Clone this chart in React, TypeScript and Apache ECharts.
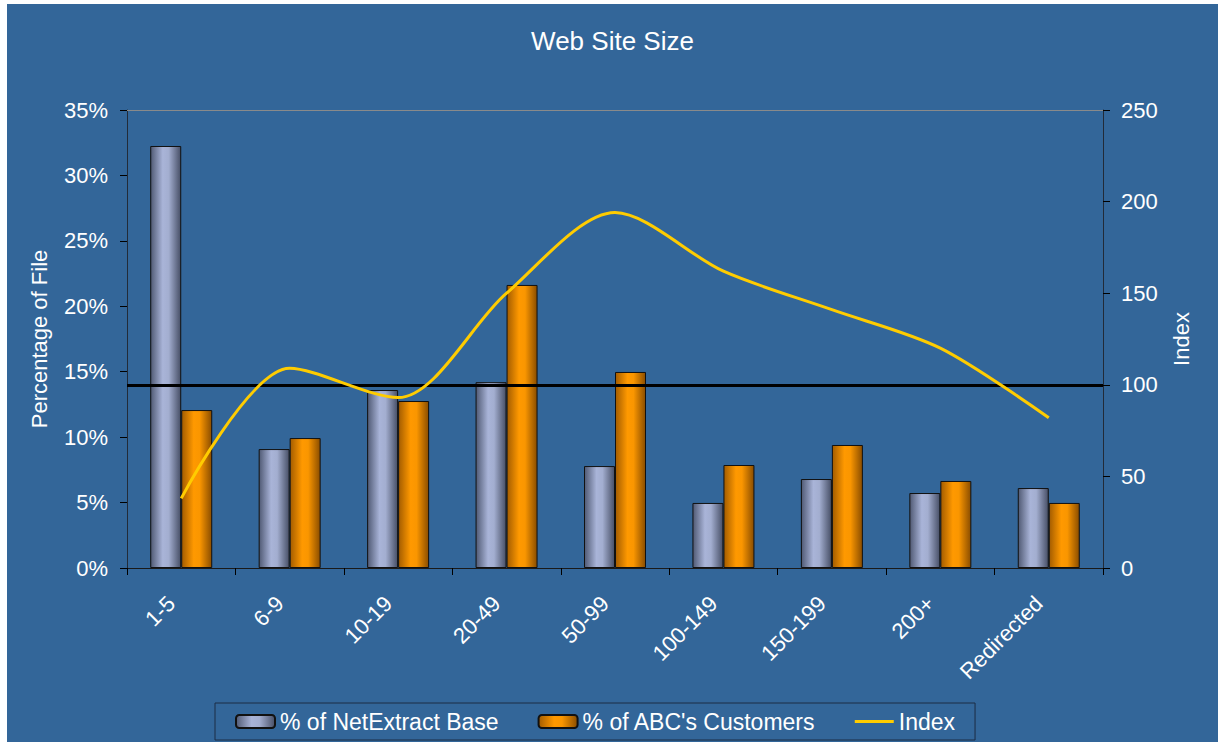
import React, { useEffect, useRef } from "react";
import * as echarts from "echarts";

const categories = ["1-5", "6-9", "10-19", "20-49", "50-99", "100-149", "150-199", "200+", "Redirected"];
const netExtractBase = [32.25, 9.09, 13.6, 14.2, 7.79, 4.97, 6.8, 5.73, 6.11];
const abcCustomers = [12.07, 9.93, 12.76, 21.63, 14.98, 7.87, 9.4, 6.65, 4.97];
const indexValues = [38, 109, 93, 150, 194, 162, 141, 120, 82];
const baselineIndex = 100;

const FONT = "'Liberation Sans', Arial, sans-serif";

export default function App() {
  const ref = useRef<HTMLDivElement>(null);
  useEffect(() => {
    if (!ref.current) return;
    const chart = echarts.init(ref.current, null, { renderer: "svg" });
    const grayGrad = new echarts.graphic.LinearGradient(0, 0, 1, 0, [
      { offset: 0, color: "#505a74" },
      { offset: 0.4, color: "#a9b4d8" },
      { offset: 0.6, color: "#a3aed0" },
      { offset: 1, color: "#474f66" },
    ]);
    const orangeGrad = new echarts.graphic.LinearGradient(0, 0, 1, 0, [
      { offset: 0, color: "#a35c00" },
      { offset: 0.4, color: "#ff9900" },
      { offset: 0.6, color: "#fa9600" },
      { offset: 1, color: "#8a4d00" },
    ]);
    chart.setOption({
      animation: false,
      backgroundColor: "#336699",
      textStyle: { fontFamily: FONT },
      title: {
        text: "Web Site Size",
        left: "center",
        top: 19,
        textStyle: { color: "#ffffff", fontSize: 26, fontWeight: "normal", fontFamily: FONT },
      },
      legend: {
        left: 208,
        top: 699,
        padding: [7, 20],
        itemGap: 39,
        itemWidth: 39,
        itemHeight: 13,
        borderColor: "#1c2c44",
        borderWidth: 1,
        textStyle: { color: "#ffffff", fontSize: 23, fontFamily: FONT },
        data: [
          { name: "% of NetExtract Base" },
          { name: "% of ABC's Customers" },
          { name: "Index", icon: "path://M0,0H40V3H0Z" },
        ],
      },
      grid: { left: 120, right: 115, top: 106, bottom: 174 },
      xAxis: {
        type: "category",
        data: categories,
        axisLine: { lineStyle: { color: "#1a1a1a", width: 1 } },
        axisTick: { show: true, length: 7, lineStyle: { color: "#000" } },
        axisLabel: {
          rotate: 45,
          color: "#ffffff",
          fontSize: 22,
          margin: 22,
          padding: [0, 14, 0, 0],
          fontFamily: FONT,
        },
      },
      yAxis: [
        {
          type: "value",
          min: 0,
          max: 35,
          interval: 5,
          name: "Percentage of File",
          nameLocation: "middle",
          nameGap: 77,
          nameTextStyle: { color: "#ffffff", fontSize: 22, fontFamily: FONT },
          axisLine: { show: true, lineStyle: { color: "#222b38" } },
          axisTick: { show: true, length: 7, lineStyle: { color: "#000" } },
          axisLabel: { formatter: "{value}%", color: "#ffffff", fontSize: 22, margin: 19, fontFamily: FONT },
          splitLine: { show: false },
        },
        {
          type: "value",
          min: 0,
          max: 250,
          interval: 50,
          name: "Index",
          nameLocation: "middle",
          nameGap: 67,
          nameTextStyle: { color: "#ffffff", fontSize: 22, fontFamily: FONT },
          axisLine: { show: true, lineStyle: { color: "#222b38" } },
          axisTick: { show: true, length: 7, lineStyle: { color: "#000" } },
          axisLabel: { color: "#ffffff", fontSize: 22, margin: 18, fontFamily: FONT },
          splitLine: { show: false },
        },
      ],
      series: [
        {
          name: "% of NetExtract Base",
          type: "bar",
          data: netExtractBase,
          barWidth: 31,
          barGap: "0%",
          itemStyle: { color: grayGrad, borderColor: "#111", borderWidth: 1 },
          markLine: {
            silent: true,
            symbol: "none",
            label: { show: false },
            lineStyle: { color: "#8a8a8a", width: 1, type: "solid" },
            data: [{ yAxis: 35 }],
          },
        },
        {
          name: "% of ABC's Customers",
          type: "bar",
          data: abcCustomers,
          barWidth: 31,
          itemStyle: { color: orangeGrad, borderColor: "#111", borderWidth: 1 },
        },
        {
          name: "Index",
          type: "line",
          yAxisIndex: 1,
          data: indexValues,
          smooth: 0.3,
          symbol: "none",
          z: 5,
          itemStyle: { color: "#ffcc00" },
          lineStyle: { color: "#ffcc00", width: 3 },
          markLine: {
            silent: true,
            symbol: "none",
            label: { show: false },
            lineStyle: { color: "#000000", width: 3, type: "solid" },
            data: [{ yAxis: baselineIndex }],
          },
        },
      ],
    });
    return () => chart.dispose();
  }, []);
  return (
    <div
      ref={ref}
      style={{ position: "absolute", left: 7, top: 4, width: 1211, height: 738 }}
    />
  );
}
